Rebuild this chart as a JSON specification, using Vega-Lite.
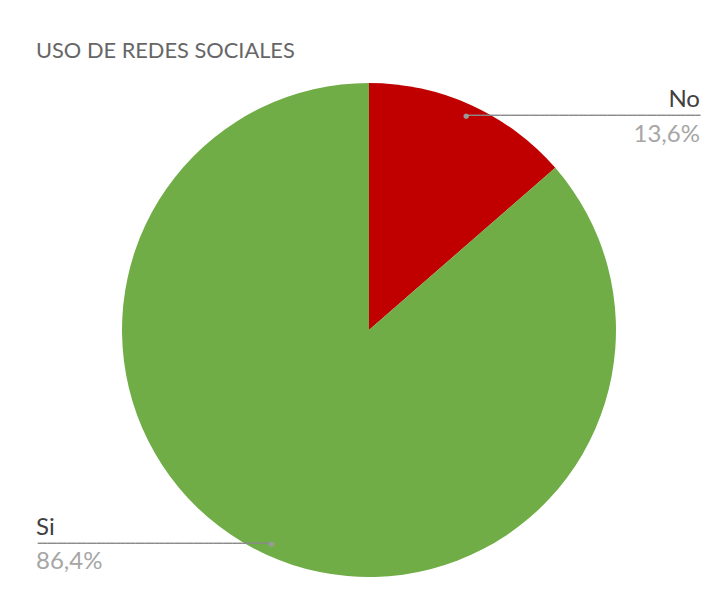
{
  "$schema": "https://vega.github.io/schema/vega-lite/v6.json",
  "autosize": {"type": "none"},
  "padding": {"left": 14, "top": 83, "right": 0, "bottom": 25},
  "width": 710,
  "height": 494,
  "background": "white",
  "config": {
    "view": {"stroke": null},
    "locale": {"number": {"decimal": ",", "thousands": ".", "grouping": [3], "currency": ["", " €"]}}
  },
  "title": {
    "text": "USO DE REDES SOCIALES",
    "anchor": "start",
    "frame": "group",
    "dx": 22,
    "offset": 3,
    "baseline": "alphabetic",
    "font": "Lato",
    "fontSize": 21.8,
    "fontWeight": "normal",
    "color": "#666666"
  },
  "data": {"values": [
    {"label": "No", "value": 0.136},
    {"label": "Si", "value": 0.864}
  ]},
  "encoding": {
    "theta": {"field": "value", "type": "quantitative", "stack": true}
  },
  "layer": [
    {
      "mark": {"type": "arc"},
      "encoding": {
        "color": {"field": "label", "type": "nominal", "scale": {"domain": ["No", "Si"], "range": ["#C00000", "#70AD47"]}, "legend": null}
      }
    },
    {
      "mark": {"type": "text", "radius": 235, "font": "DejaVu Sans Mono", "fontSize": 8.1, "align": "left", "baseline": "middle", "color": "#8a8a8a"},
      "encoding": {
        "detail": {"field": "label", "type": "nominal"},
        "text": {"condition": {"test": "datum.label === 'No'", "value": "━━━━━━━━━━━━━━━━━━━━━━━━━━━━━━━━━━━━━━━━━━━━━━━━"}, "value": ""}
      }
    },
    {
      "mark": {"type": "text", "radius": 235, "font": "DejaVu Sans Mono", "fontSize": 8.1, "align": "right", "baseline": "middle", "color": "#8a8a8a"},
      "encoding": {
        "detail": {"field": "label", "type": "nominal"},
        "text": {"condition": {"test": "datum.label === 'Si'", "value": "━━━━━━━━━━━━━━━━━━━━━━━━━━━━━━━━━━━━━━━━━━━━━━━━"}, "value": ""}
      }
    },
    {
      "mark": {"type": "text", "radius": 235, "text": "●", "font": "DejaVu Sans", "fontSize": 7, "align": "center", "baseline": "middle", "color": "#9a9a9a"},
      "encoding": {"detail": {"field": "label", "type": "nominal"}}
    },
    {
      "mark": {"type": "text", "radius": 235, "dx": 233.6, "dy": -9.4, "font": "Lato", "fontSize": 24, "align": "right", "baseline": "alphabetic", "color": "#404040"},
      "encoding": {
        "detail": {"field": "label", "type": "nominal"},
        "text": {"condition": {"test": "datum.label === 'No'", "field": "label", "type": "nominal"}, "value": ""}
      }
    },
    {
      "mark": {"type": "text", "radius": 235, "dx": 233.6, "dy": 25.6, "font": "Lato", "fontSize": 24, "align": "right", "baseline": "alphabetic", "color": "#a6a6a6"},
      "encoding": {
        "detail": {"field": "label", "type": "nominal"},
        "text": {"condition": {"test": "datum.label === 'No'", "field": "value", "type": "quantitative", "format": ".1%"}, "value": ""}
      }
    },
    {
      "mark": {"type": "text", "radius": 235, "dx": -235.6, "dy": -8.9, "font": "Lato", "fontSize": 24, "align": "left", "baseline": "alphabetic", "color": "#404040"},
      "encoding": {
        "detail": {"field": "label", "type": "nominal"},
        "text": {"condition": {"test": "datum.label === 'Si'", "field": "label", "type": "nominal"}, "value": ""}
      }
    },
    {
      "mark": {"type": "text", "radius": 235, "dx": -235.6, "dy": 25.4, "font": "Lato", "fontSize": 24, "align": "left", "baseline": "alphabetic", "color": "#a6a6a6"},
      "encoding": {
        "detail": {"field": "label", "type": "nominal"},
        "text": {"condition": {"test": "datum.label === 'Si'", "field": "value", "type": "quantitative", "format": ".1%"}, "value": ""}
      }
    }
  ]
}
